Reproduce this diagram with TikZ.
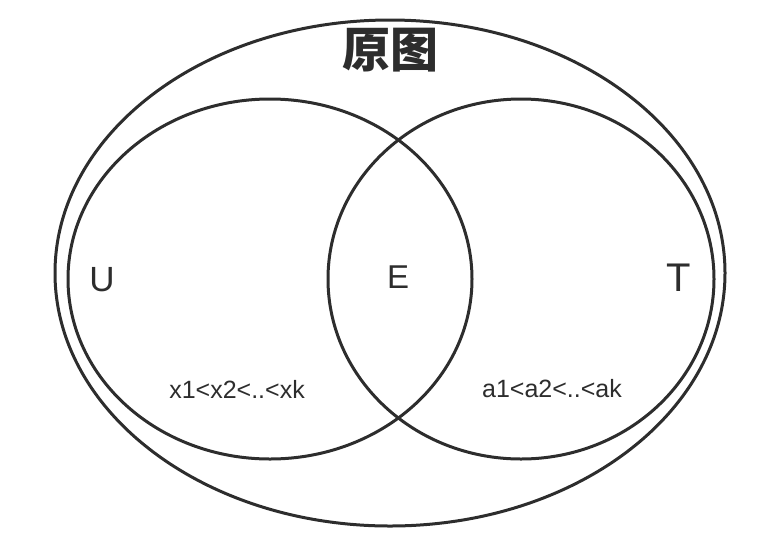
\documentclass[tikz,border=0pt]{standalone}
\usepackage{fontspec}
\setmainfont{Liberation Sans}
\newfontfamily\cjkfont{Noto Sans CJK SC}
\usepackage{tikz}
\definecolor{ink}{RGB}{45,45,45}

\begin{document}
\begin{tikzpicture}[
    x=1pt, y=-1pt,
    set/.style={draw=ink,line width=3pt},
    setname/.style={text=ink,inner sep=0pt,anchor=center},
    order/.style={text=ink,inner sep=0pt,font=\fontsize{25}{28}\selectfont}
]
\useasboundingbox (0,0) rectangle (784,558);
% sets
\draw[set] (390,273) ellipse [x radius=335, y radius=253];
\draw[set] (270,279) ellipse [x radius=202, y radius=180];
\draw[set] (521,279) ellipse [x radius=193, y radius=180];
% names
\node[setname,font=\cjkfont\bfseries\fontsize{48}{52}\selectfont] (whole) at (390,50) {原图};
\node[setname,font=\fontsize{35}{40}\selectfont] (u) at (102,280) {U};
\node[setname,font=\fontsize{33}{38}\selectfont] (e) at (398,277) {E};
\node[setname,font=\fontsize{40}{46}\selectfont] (t) at (679,278) {T};
% orders
\node[order] (xs) at (237,389) {x1<x2<..<xk};
\node[order] (as) at (552,389) {a1<a2<..<ak};
\end{tikzpicture}
\end{document}
